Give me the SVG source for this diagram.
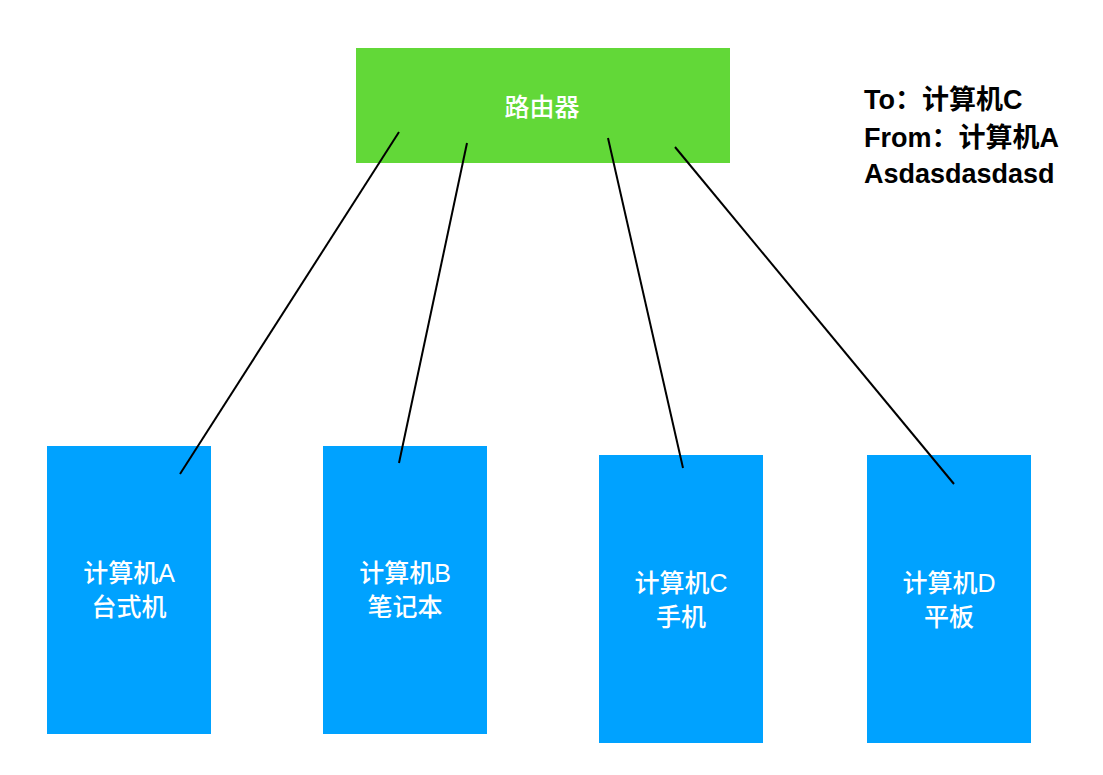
<svg xmlns="http://www.w3.org/2000/svg" width="1103" height="775" viewBox="0 0 1103 775">
<style>
text{font-family:"Liberation Sans","Noto Sans CJK SC",sans-serif;}
.lbl{fill:#fff;font-size:25px;font-weight:500;text-anchor:middle;}
.note{fill:#000;font-size:27px;font-weight:bold;}
.dev{fill:#00A2FF;}
.conn line{stroke:#000;stroke-width:2;}
</style>
<rect width="1103" height="775" fill="#fff"/>
<g id="router">
<rect x="356" y="48" width="374" height="115" fill="#62D838"/>
<text class="lbl" x="542" y="116">路由器</text>
</g>
<g id="pcA">
<rect class="dev" x="47" y="446" width="164" height="288"/>
<text class="lbl" x="129" y="582">计算机A</text>
<text class="lbl" x="129" y="616">台式机</text>
</g>
<g id="pcB">
<rect class="dev" x="323" y="446" width="164" height="288"/>
<text class="lbl" x="405" y="582">计算机B</text>
<text class="lbl" x="405" y="616">笔记本</text>
</g>
<g id="pcC">
<rect class="dev" x="599" y="455" width="164" height="288"/>
<text class="lbl" x="681" y="592">计算机C</text>
<text class="lbl" x="681" y="626">手机</text>
</g>
<g id="pcD">
<rect class="dev" x="867" y="455" width="164" height="288"/>
<text class="lbl" x="949" y="592">计算机D</text>
<text class="lbl" x="949" y="626">平板</text>
</g>
<g id="connectors" class="conn">
<line x1="399" y1="132" x2="180" y2="474"/>
<line x1="467" y1="143" x2="399" y2="463"/>
<line x1="608" y1="138" x2="683" y2="468"/>
<line x1="675" y1="147" x2="954" y2="484"/>
</g>
<g id="note">
<text class="note" x="864" y="109">To：计算机C</text>
<text class="note" x="864" y="147">From：计算机A</text>
<text class="note" x="864" y="183">Asdasdasdasd</text>
</g>
</svg>
